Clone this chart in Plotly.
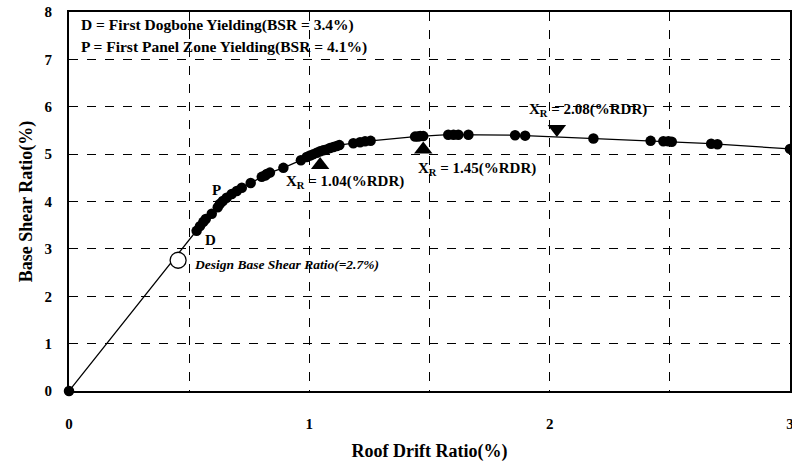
import plotly.graph_objects as go

# Pushover curve (roof drift ratio %, base shear ratio %)
drift = [0, 0.531, 0.545, 0.559, 0.569, 0.594, 0.619, 0.628, 0.64, 0.656, 0.677, 0.698,
         0.719, 0.756, 0.802, 0.816, 0.823, 0.836, 0.892, 0.965, 0.989, 1.003, 1.017,
         1.031, 1.045, 1.058, 1.072, 1.086, 1.10, 1.114, 1.125, 1.183, 1.211, 1.232,
         1.255, 1.44, 1.452, 1.461, 1.474, 1.578, 1.60, 1.62, 1.662, 1.856, 1.898,
         2.182, 2.42, 2.473, 2.494, 2.508, 2.672, 2.698, 3.0]
shear = [0, 3.38, 3.48, 3.57, 3.63, 3.74, 3.88, 3.95, 4.01, 4.08, 4.16, 4.22,
         4.29, 4.39, 4.52, 4.55, 4.58, 4.61, 4.71, 4.87, 4.94, 4.97, 5.0,
         5.03, 5.06, 5.08, 5.10, 5.13, 5.15, 5.17, 5.19, 5.23, 5.25, 5.27,
         5.28, 5.37, 5.37, 5.38, 5.38, 5.41, 5.41, 5.41, 5.41, 5.40, 5.39,
         5.33, 5.28, 5.27, 5.27, 5.26, 5.22, 5.21, 5.11]

# X_R markers
xr_up_x = [1.045, 1.474]
xr_up_y = [4.77, 5.10]
xr_dn_x = [2.03]
xr_dn_y = [5.53]

# design base shear point
design_x = [0.454]
design_y = [2.76]

x_tickvals = [0, 0.5, 1, 1.5, 2, 2.5, 3]
x_ticktext = ["0", "", "1", "", "2", "", "3"]
y_tickvals = [0, 1, 2, 3, 4, 5, 6, 7, 8]

FONT = "Liberation Serif"

fig = go.Figure()
fig.add_trace(go.Scatter(x=drift, y=shear, mode="lines+markers",
                         line=dict(color="black", width=1.3),
                         marker=dict(color="black", size=10.5), showlegend=False,
                         cliponaxis=False))
fig.add_trace(go.Scatter(x=xr_up_x, y=xr_up_y, mode="markers",
                         marker=dict(symbol="triangle-up", color="black", size=16),
                         showlegend=False))
fig.add_trace(go.Scatter(x=xr_dn_x, y=xr_dn_y, mode="markers",
                         marker=dict(symbol="triangle-down", color="black", size=16),
                         showlegend=False))
fig.add_trace(go.Scatter(x=design_x, y=design_y, mode="markers",
                         marker=dict(symbol="circle", color="white", size=16,
                                     line=dict(color="black", width=1.3)),
                         showlegend=False))

bold = dict(family=FONT, size=15, color="black", weight="bold")
title_font = dict(family=FONT, size=18, color="black", weight="bold")

def ann(x, y, text, xanchor="center", italic=False, xref="x", yref="y", size=15):
    f = dict(bold)
    f["size"] = size
    if italic:
        f["style"] = "italic"
    fig.add_annotation(x=x, y=y, xref=xref, yref=yref, text=text, showarrow=False,
                       xanchor=xanchor, yanchor="middle", font=f)

ann(1.149, 4.41, "X<sub>R</sub> = 1.04(%RDR)")
ann(1.697, 4.68, "X<sub>R</sub> = 1.45(%RDR)")
ann(2.158, 5.93, "X<sub>R</sub> = 2.08(%RDR)")
ann(0.615, 4.24, "P")
ann(0.587, 3.19, "D")
ann(0.51, 2.66, "Design Base Shear Ratio(=2.7%)", xanchor="left", italic=True, size=13.5)
ann(0.04, 7.72, "D = First Dogbone Yielding(BSR = 3.4%)", xanchor="left", size=15.5)
ann(0.04, 7.26, "P = First Panel Zone Yielding(BSR = 4.1%)", xanchor="left", size=15.5)

fig.update_xaxes(range=[0, 3.0], tickvals=x_tickvals, ticktext=x_ticktext,
                 showgrid=True, gridcolor="black", gridwidth=1, griddash="dash",
                 showline=True, linecolor="black", linewidth=2, mirror=True,
                 zeroline=False, ticks="", tickfont=bold, ticklabelstandoff=18,
                 ticklabeloverflow="allow", automargin=False,
                 title=dict(text="Roof Drift Ratio(%)", font=title_font, standoff=15))
fig.update_yaxes(range=[0, 8], tickvals=y_tickvals,
                 showgrid=True, gridcolor="black", gridwidth=1, griddash="dash",
                 showline=True, linecolor="black", linewidth=2, mirror=True,
                 zeroline=False, ticks="", tickfont=bold, ticklabelstandoff=12,
                 ticklabeloverflow="allow", automargin=False,
                 title=dict(text="Base Shear Ratio(%)", font=title_font, standoff=7))

fig.update_layout(width=792, height=462, margin=dict(l=69, r=2, t=12, b=71),
                  plot_bgcolor="white", paper_bgcolor="white")

fig.write_html("out.html", config={"displayModeBar": False},
               post_script="document.body.style.margin='0';"
                           "document.body.style.overflow='hidden';")
